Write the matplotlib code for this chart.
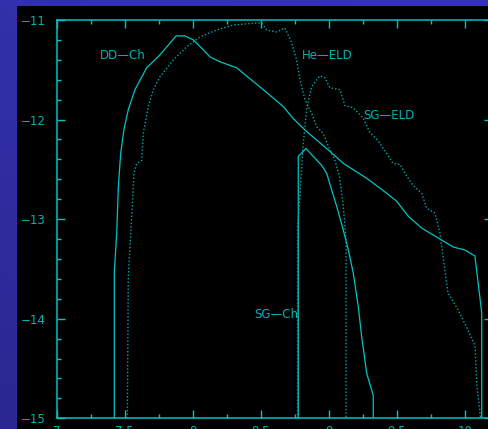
import numpy as np
import matplotlib
matplotlib.use('Agg')
import matplotlib.pyplot as plt
from matplotlib.patches import Rectangle
from matplotlib.colors import LinearSegmentedColormap
from matplotlib.ticker import MultipleLocator

# curves (x, log value)
dd_ch_x = [7.423, 7.423, 7.441, 7.453, 7.470, 7.494, 7.526, 7.575, 7.661, 7.759, 7.877, 7.943,
           8.004, 8.077, 8.126, 8.200, 8.323, 8.420, 8.518, 8.665, 8.738, 8.837, 9.008, 9.106,
           9.278, 9.425, 9.498, 9.583, 9.682, 9.792, 9.914, 10.0, 10.073, 10.123, 10.123]
dd_ch_y = [-15, -13.54, -13.14, -12.68, -12.34, -12.10, -11.90, -11.70, -11.48, -11.35, -11.16, -11.16,
           -11.20, -11.30, -11.37, -11.42, -11.48, -11.59, -11.70, -11.87, -11.99, -12.12, -12.32, -12.44,
           -12.59, -12.74, -12.82, -12.97, -13.09, -13.18, -13.28, -13.31, -13.37, -13.94, -15]

sg_ch_x = [8.775, 8.775, 8.832, 8.885, 8.947, 8.984, 9.021, 9.057, 9.106, 9.143, 9.179,
           9.216, 9.241, 9.278, 9.326, 9.326]
sg_ch_y = [-15, -12.37, -12.29, -12.37, -12.46, -12.54, -12.71, -12.87, -13.11, -13.31, -13.54,
           -13.88, -14.18, -14.55, -14.77, -15]

he_eld_x = [7.519, 7.526, 7.551, 7.568, 7.588, 7.625, 7.636, 7.673, 7.710, 7.759, 7.857, 7.955,
            8.053, 8.176, 8.298, 8.469, 8.506, 8.543, 8.616, 8.677, 8.727, 8.763, 8.788, 8.824,
            8.874, 8.910, 8.959, 8.996, 9.045, 9.077, 9.106, 9.126, 9.126]
he_eld_y = [-15, -13.58, -12.97, -12.54, -12.44, -12.41, -12.14, -11.87, -11.70, -11.57, -11.40, -11.27,
            -11.17, -11.10, -11.05, -11.03, -11.03, -11.10, -11.12, -11.08, -11.23, -11.40, -11.60, -11.80,
            -11.94, -12.07, -12.14, -12.27, -12.41, -12.57, -12.87, -13.21, -15]

sg_eld_x = [8.77, 8.77, 8.787, 8.809, 8.836, 8.873, 8.934, 8.971, 9.007, 9.081, 9.118, 9.176,
            9.25, 9.301, 9.36, 9.424, 9.471, 9.522, 9.559, 9.618, 9.682, 9.718, 9.779, 9.816,
            9.875, 9.949, 10.013, 10.074, 10.086, 10.115]
sg_eld_y = [-15, -13.08, -12.78, -12.28, -11.90, -11.67, -11.56, -11.58, -11.68, -11.70, -11.86, -11.88,
            -11.98, -12.13, -12.21, -12.34, -12.44, -12.45, -12.54, -12.66, -12.74, -12.89, -12.94, -13.14,
            -13.74, -13.91, -14.09, -14.27, -14.65, -15]

labels = ['DD\u2014Ch', 'He\u2014ELD', 'SG\u2014ELD', 'SG\u2014Ch']
label_x = [7.32, 8.80, 9.25, 8.45]
label_y = [-11.36, -11.36, -11.96, -13.96]

cyan = '#00c4c4'
dim = '#00a8a8'

fig = plt.figure(figsize=(4.89, 4.29), dpi=100)

# blue gradient backdrop
bg = fig.add_axes([0, 0, 1, 1], zorder=-10)
cmap = LinearSegmentedColormap.from_list('bg', ['#2a2890', '#3634b6'])
gy = np.linspace(0, 1, 256).reshape(-1, 1)
gx = np.linspace(0, 1, 256).reshape(1, -1)
bg.imshow(0.7 * gy + 0.3 * gx, cmap=cmap, aspect='auto', extent=[0, 1, 0, 1], origin='lower')
bg.axis('off')

# black panel
fig.patches.append(Rectangle((16.7 / 489, 0), 1, (429 - 6) / 429, transform=fig.transFigure,
                             facecolor='black', edgecolor='none', zorder=-5))

ax = fig.add_axes([56.7 / 489, 10.7 / 429, 435.5 / 489, 398.3 / 429])
ax.set_facecolor('black')

ax.plot(dd_ch_x, dd_ch_y, color=cyan, lw=0.9)
ax.plot(sg_ch_x, sg_ch_y, color=cyan, lw=0.9)
ax.plot(he_eld_x, he_eld_y, color=dim, lw=1.0, linestyle=(0, (1, 1.5)))
ax.plot(sg_eld_x, sg_eld_y, color=dim, lw=1.0, linestyle=(0, (1, 1.5)))

for t, x, y in zip(labels, label_x, label_y):
    ax.text(x, y, t, color='#00b4b4', fontsize=8.5, va='center', ha='left')

ax.set_xlim(7, 10.2)
ax.set_ylim(-15, -11)
ax.xaxis.set_minor_locator(MultipleLocator(0.25))
ax.yaxis.set_minor_locator(MultipleLocator(0.2))
ax.set_xticks([7, 7.5, 8, 8.5, 9, 9.5, 10])
ax.set_xticklabels(['7', '7.5', '8', '8.5', '9', '9.5', '10'])
ax.set_yticks([-15, -14, -13, -12, -11])
ax.set_yticklabels(['\u221215', '\u221214', '\u221213', '\u221212', '\u221211'])
ax.tick_params(which='both', direction='in', top=True, right=True, colors=cyan,
               labelcolor='#00b4b4', labelsize=8.5, width=1)
ax.tick_params(which='major', length=6)
ax.tick_params(which='minor', length=3)
ax.tick_params(axis='y', which='major', pad=8)
ax.tick_params(axis='x', which='major', pad=4.5)
for s in ax.spines.values():
    s.set_color(cyan)
    s.set_linewidth(1.1)

fig.savefig('out.png', dpi=100)
